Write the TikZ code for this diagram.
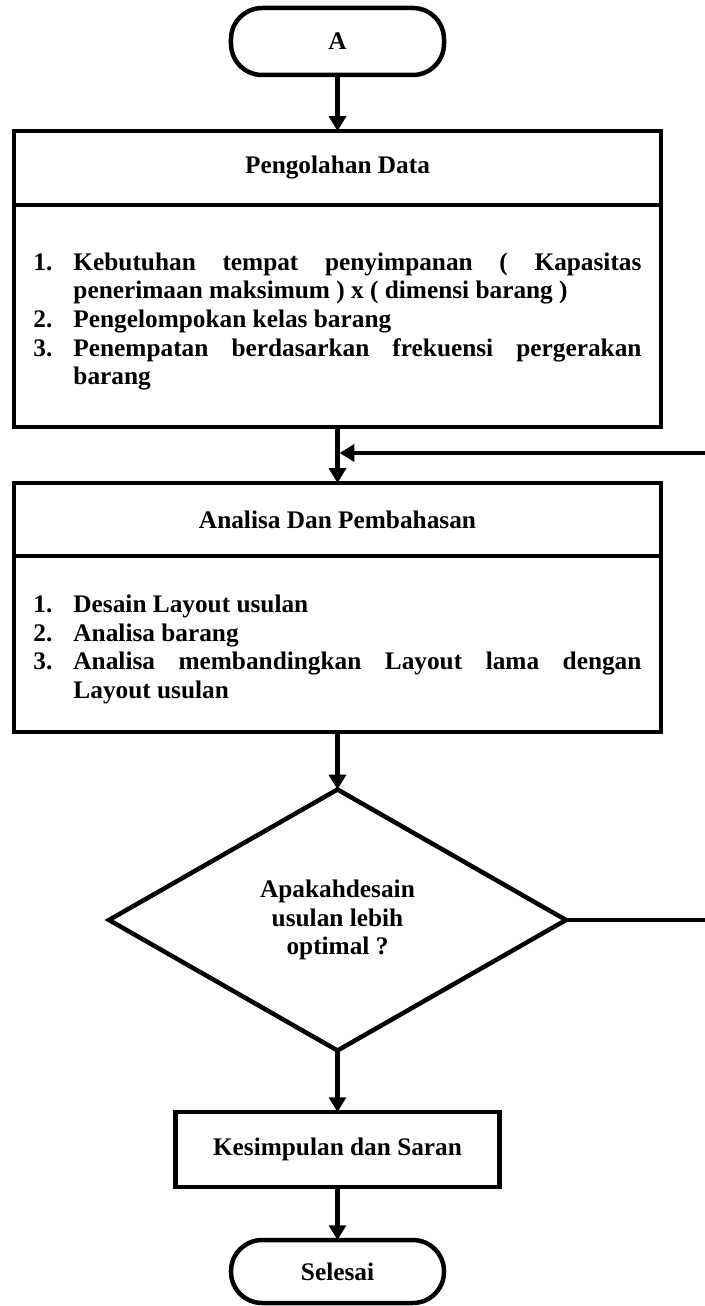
\documentclass[tikz,border=0pt]{standalone}
\usepackage{fontspec}
\setmainfont{Liberation Serif}
\usetikzlibrary{arrows.meta, positioning, shapes.geometric}

\tolerance=9999
\hyphenpenalty=10000
\newcommand{\numitem}[2]{\par\hangindent=1cm\hangafter=1\noindent\makebox[1cm][l]{#1}#2\par}

\begin{document}
\begin{tikzpicture}[node distance=3cm, >={Triangle[width=12pt, length=10.5pt]}, line width=3.2pt,
    every node/.style={draw, outer sep=0pt, font=\fontsize{18}{20.3}\selectfont\bfseries},
    terminal/.style={rectangle, rounded corners=0.78cm, minimum width=5.325cm, minimum height=1.675cm},
    header/.style={rectangle, minimum width=16.175cm, minimum height=1.85cm},
    body/.style={rectangle, minimum width=16.175cm, text width=15.2cm, align=justify},
    process/.style={rectangle, minimum width=8.1cm, minimum height=1.875cm},
    decision/.style={diamond, minimum width=11.425cm, minimum height=6.525cm, inner sep=0pt, align=center}]
    \useasboundingbox (-8.4375,1.0375) rectangle (9.1625,-31.6125);

    % Nodes
    \node (A) [terminal] {A};
    \node (pdhead) [header, node distance=3.1625cm, below of=A] {Pengolahan Data};
    \node (pdbody) [body, minimum height=5.55cm, node distance=3.7cm, below of=pdhead] {%
        \numitem{1.}{Kebutuhan tempat penyimpanan ( Kapasitas penerimaan maksimum ) x ( dimensi barang )}%
        \numitem{2.}{Pengelompokan kelas barang}%
        \numitem{3.}{Penempatan berdasarkan frekuensi pergerakan barang}};
    \node (join) [coordinate, node distance=3.425cm, below of=pdbody] {};
    \node (aphead) [header, minimum height=1.825cm, node distance=5.0875cm, below of=pdbody] {Analisa Dan Pembahasan};
    \node (apbody) [body, minimum height=4.4cm, node distance=3.1125cm, below of=aphead] {%
        \numitem{1.}{Desain Layout usulan}%
        \numitem{2.}{Analisa barang}%
        \numitem{3.}{Analisa membandingkan Layout lama dengan Layout usulan}};
    \node (cek) [decision, node distance=6.9cm, below of=apbody] {Apakahdesain\\usulan lebih\\optimal ?};
    \node (ks) [process, node distance=5.7375cm, below of=cek] {Kesimpulan dan Saran};
    \node (selesai) [terminal, minimum height=1.575cm, node distance=3.05cm, below of=ks] {Selesai};

    % Edges
    \draw[->] (A) -- (pdhead);
    \draw[->] (pdbody) -- (aphead);
    \draw[->] (apbody) -- (cek);
    \draw[->] (cek) -- (ks);
    \draw[->] (ks) -- (selesai);
    \draw[->, shorten >=1.5pt] (cek.east) -- ++(4cm,0) |- (join);
\end{tikzpicture}
\end{document}
